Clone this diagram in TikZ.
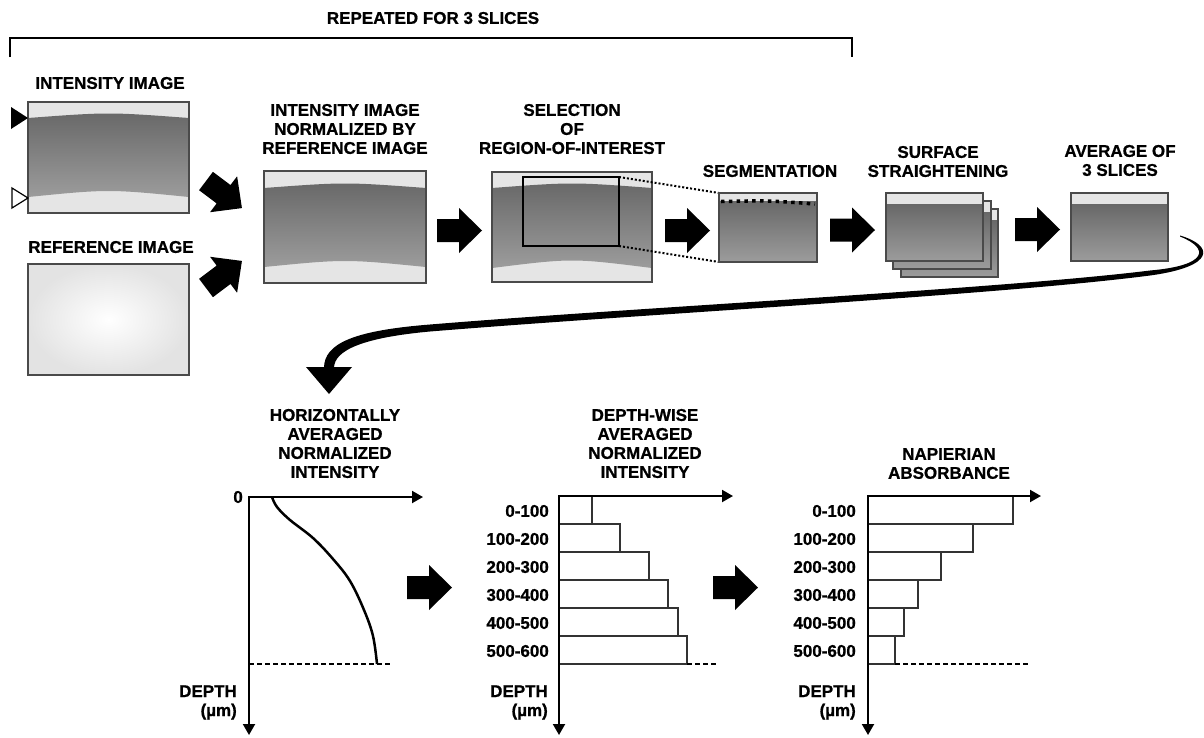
\documentclass[tikz,border=0pt]{standalone}
\usepackage{fontspec}
\setmainfont{Liberation Sans}[BoldFeatures={FakeBold=0.8}]
\usetikzlibrary{arrows.meta}
\definecolor{band}{HTML}{E5E5E5}
\definecolor{dtop}{HTML}{686868}
\definecolor{dbot}{HTML}{9C9C9C}
\definecolor{bord}{HTML}{4A4A4A}
\definecolor{barc}{HTML}{333333}
\tikzset{
  lbl/.style={font=\bfseries\fontsize{17}{19}\selectfont, align=center, inner sep=0pt},
  axisln/.style={line width=2pt, {Triangle[length=11pt,width=12pt]}-{Triangle[length=11pt,width=12pt]}},
  barbox/.style={draw=barc, line width=1.5pt},
  dashln/.style={line width=1.5pt, dash pattern=on 5pt off 3pt},
  dotln/.style={line width=2pt, dash pattern=on 2pt off 2pt},
  framebox/.style={draw=bord, line width=1.2pt},
  blk/.pic={\fill[black] (0,-11.5) -- (22,-11.5) -- (22,-22.5) -- (45,0) -- (22,22.5) -- (22,11.5) -- (0,11.5) -- cycle;}
}
\newcommand\curvedimg[8]{%
  \fill[band] (#1,#2) rectangle (#3,#4);
  \shade[top color=dtop, bottom color=dbot] (#1,#5) .. controls ({(#1+#3)/2},#6) .. (#3,#5) -- (#3,#7) .. controls ({(#1+#3)/2},#8) .. (#1,#7) -- cycle;
  \draw[framebox] (#1,#2) rectangle (#3,#4);
}
\newcommand\flatimg[5]{%
  \fill[band] (#1,#2) rectangle (#3,#5);
  \shade[top color=dtop, bottom color=dbot] (#1,#5) rectangle (#3,#4);
  \draw[framebox] (#1,#2) rectangle (#3,#4);
}
\begin{document}
\begin{tikzpicture}[x=1pt,y=-1pt]
\useasboundingbox (0,0) rectangle (1204,737);

% bracket
\node[lbl] (tRep) at (433,18) {REPEATED FOR 3 SLICES};
\coordinate (brA) at (10,57);
\coordinate (brB) at (10,38);
\coordinate (brC) at (852,38);
\coordinate (brD) at (852,57);
\draw[line width=2pt] (brA) -- (brB) -- (brC) -- (brD);

% intensity image
\node[lbl] (tInt) at (110,83) {INTENSITY IMAGE};
\curvedimg{28}{102}{189}{213}{118}{112}{197}{189}
\fill[black] (11,107) -- (28,118) -- (11,129) -- cycle;
\draw[black, fill=white, line width=1.2pt] (12,188) -- (28,198) -- (12,208) -- cycle;

% reference image
\node[lbl] (tRef) at (111,247) {REFERENCE IMAGE};
\shade[inner color=white, outer color=black!11] (28,264) rectangle (189,375);
\draw[framebox] (28,264) rectangle (189,375);

\pic[rotate=-37] at (206,181) {blk};
\pic[rotate=37] at (206,288) {blk};

% normalized
\node[lbl] (tNorm) at (345,129) {INTENSITY IMAGE\\NORMALIZED BY\\REFERENCE IMAGE};
\curvedimg{264}{171}{426}{283}{188}{182}{267}{259}
\pic at (437,230.5) {blk};

% ROI
\node[lbl] (tSel) at (572,129) {SELECTION\\OF\\REGION-OF-INTEREST};
\curvedimg{492}{172}{652}{282}{188}{182}{268}{258}
\draw[black, line width=2.5pt] (523,177) rectangle (619,246);
\coordinate (roiNE) at (619,177);
\coordinate (roiSE) at (619,246);
\coordinate (segNW) at (719,193);
\coordinate (segSW) at (719,262);
\draw[dotln] (roiNE) -- (segNW);
\draw[dotln] (roiSE) -- (segSW);
\pic at (665,230.5) {blk};

% segmentation
\node[lbl] (tSeg) at (770,171) {SEGMENTATION};
\flatimg{719}{193}{817}{262}{201}
\draw[line width=3.5pt, dash pattern=on 3.5pt off 4.3pt] (721,201.5) .. controls (768,200.5) .. (815,204);
\pic at (830,230) {blk};

% surface straightening
\node[lbl] (tSurf) at (938,161.5) {SURFACE\\STRAIGHTENING};
\flatimg{901}{209}{998}{277}{220}
\flatimg{893}{201}{991}{269}{212}
\flatimg{886}{193}{983}{261}{204}
\pic at (1015,229.5) {blk};

% average
\node[lbl] (tAvg) at (1120,160.5) {AVERAGE OF\\3 SLICES};
\flatimg{1071}{193}{1168}{261}{204}

% big curved arrow
\fill[black] (1180,235.5) .. controls (1214,245.5) and (1216,266.5) .. (1150,275.5)
  .. controls (1000,295) and (650,313.5) .. (430,331.5)
  .. controls (364,337.5) and (334,350) .. (334,368)
  -- (324,368)
  .. controls (324,343) and (355,330.5) .. (430,324.5)
  .. controls (650,306.5) and (1000,289) .. (1150,270.5)
  .. controls (1208,265.5) and (1210,248.5) .. (1180,236.5) -- cycle;
\fill[black] (306,367) -- (352,367) -- (329,394) -- cycle;

% graph 1
\node[lbl] (tHor) at (335,443.5) {HORIZONTALLY\\AVERAGED\\NORMALIZED\\INTENSITY};
\coordinate (o1) at (249,497);
\coordinate (x1) at (423,497);
\coordinate (y1) at (249,735);
\draw[dashln] (249,664) -- (392,664);
\draw[line width=2.5pt] plot[smooth, tension=0.6] coordinates {(272,497) (277,507) (290,520) (313,538) (333,559) (350,581) (364,610) (373,636) (377,664)};
\draw[axisln] (x1) -- (o1) -- (y1);
\node[lbl, anchor=east] (z0) at (243,497) {0};
\node[lbl, anchor=base east] (d1) at (237,697) {DEPTH};
\node[lbl, anchor=base east] (u1) at (237,716) {(µm)};
\pic at (407,587.5) {blk};

% graph 2
\node[lbl] (tDw) at (645,443.5) {DEPTH-WISE\\AVERAGED\\NORMALIZED\\INTENSITY};
\foreach \r/\w [count=\i from 0] in {0-100/592,100-200/620,200-300/649,300-400/668,400-500/678,500-600/687} {
  \draw[barbox] (559,{496+28*\i}) rectangle (\w,{524+28*\i});
  \node[lbl, anchor=east] (r2-\i) at (549,{511+28*\i}) {\r};
}
\draw[dashln] (687,664) -- (717,664);
\coordinate (o2) at (559,496);
\coordinate (x2) at (733,496);
\coordinate (y2) at (559,735);
\draw[axisln] (x2) -- (o2) -- (y2);
\node[lbl, anchor=base east] (d2) at (548,697) {DEPTH};
\node[lbl, anchor=base east] (u2) at (548,716) {(µm)};
\pic at (713,587.5) {blk};

% graph 3
\node[lbl] (tNap) at (949,463.5) {NAPIERIAN\\ABSORBANCE};
\foreach \r/\w [count=\i from 0] in {0-100/1013,100-200/973,200-300/941,300-400/918,400-500/904,500-600/895} {
  \draw[barbox] (868,{496+28*\i}) rectangle (\w,{524+28*\i});
  \node[lbl, anchor=east] (r3-\i) at (856,{511+28*\i}) {\r};
}
\draw[dashln] (895,664) -- (1028,664);
\coordinate (o3) at (868,496);
\coordinate (x3) at (1041,496);
\coordinate (y3) at (868,735);
\draw[axisln] (x3) -- (o3) -- (y3);
\node[lbl, anchor=base east] (d3) at (856,697) {DEPTH};
\node[lbl, anchor=base east] (u3) at (856,716) {(µm)};
\end{tikzpicture}
\end{document}
